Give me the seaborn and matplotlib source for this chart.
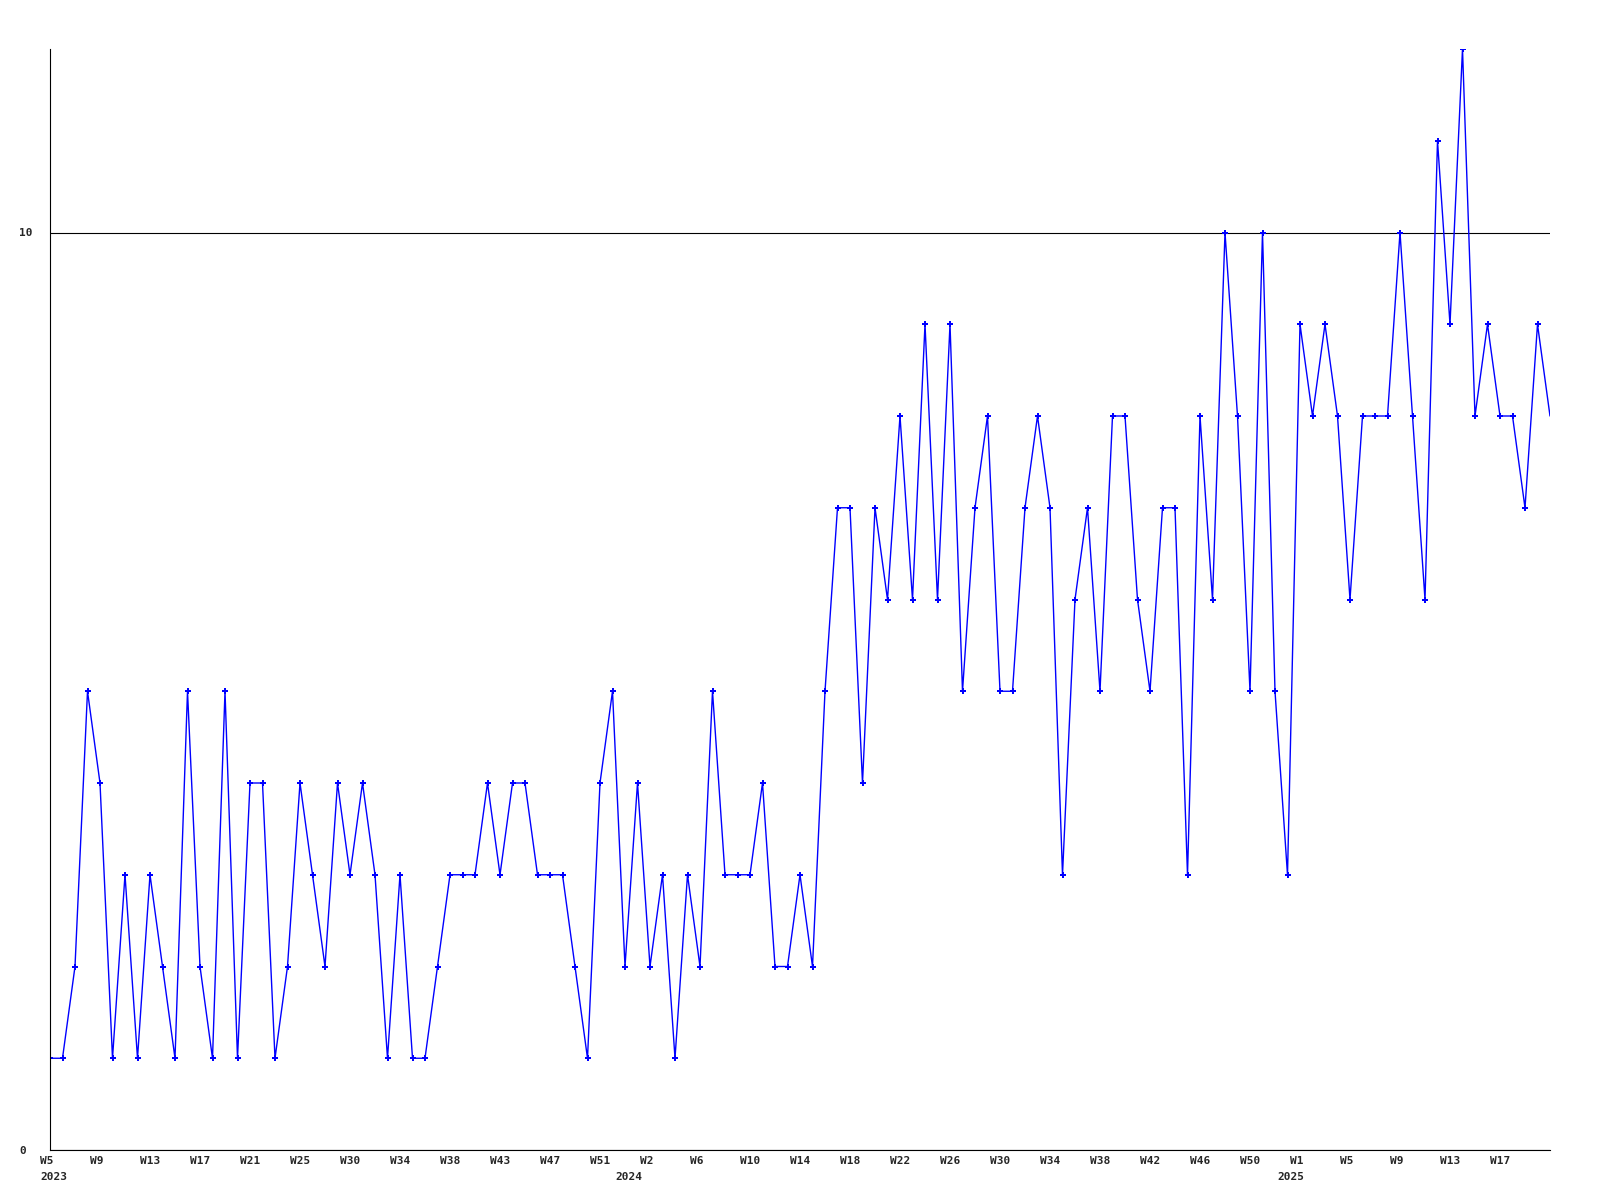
import matplotlib
matplotlib.use("Agg")
import matplotlib.pyplot as plt
import matplotlib.transforms as mtransforms
import seaborn as sns
import pandas as pd

# weekly counts, starting 2023 W5
counts = [1, 1, 2, 5, 4, 1, 3, 1, 3, 2,
          1, 5, 2, 1, 5, 1, 4, 4, 1, 2,
          4, 3, 2, 4, 3, 4, 3, 1, 3, 1,
          1, 2, 3, 3, 3, 4, 3, 4, 4, 3,
          3, 3, 2, 1, 4, 5, 2, 4, 2, 3,
          1, 3, 2, 5, 3, 3, 3, 4, 2, 2,
          3, 2, 5, 7, 7, 4, 7, 6, 8, 6,
          9, 6, 9, 5, 7, 8, 5, 5, 7, 8,
          7, 3, 6, 7, 5, 8, 8, 6, 5, 7,
          7, 3, 8, 6, 10, 8, 5, 10, 5, 3,
          9, 8, 9, 8, 6, 8, 8, 8, 10, 8,
          6, 11, 9, 12, 8, 9, 8, 8, 7, 9,
          8]

# every 4th point gets a week label
week_labels = ["W5", "W9", "W13", "W17", "W21", "W25", "W30", "W34", "W38", "W43",
               "W47", "W51", "W2", "W6", "W10", "W14", "W18", "W22", "W26", "W30",
               "W34", "W38", "W42", "W46", "W50", "W1", "W5", "W9", "W13", "W17"]
year_labels = ["2023", "2024", "2025"]
year_pos = [0, 46, 99]

y_ticks = [0, 10]

df = pd.DataFrame({"pos": range(len(counts)), "count": counts})

sns.set_style("white")
plt.rcParams["font.family"] = ["DejaVu Sans Mono", "DejaVu Sans"]

fig = plt.figure(figsize=(16, 12), dpi=100)
ax = fig.add_axes([50 / 1600, 50 / 1200, 1500 / 1600, 1101 / 1200])

sns.lineplot(data=df, x="pos", y="count", color="#0000ff", linewidth=1.0, ax=ax)
sns.scatterplot(data=df.iloc[:-1], x="pos", y="count", color="#0000ff",
                marker="P", s=20, linewidth=0, ax=ax)

ax.set_xlim(0, 120)
ax.set_ylim(0, 12)
ax.set_xlabel("")
ax.set_ylabel("")

for s in ["top", "right"]:
    ax.spines[s].set_visible(False)
for s in ["left", "bottom"]:
    ax.spines[s].set_color("black")
    ax.spines[s].set_linewidth(0.8)

ax.set_yticks(y_ticks)
ax.set_yticklabels([str(v) for v in y_ticks], fontsize=8, fontweight="bold")
ax.grid(axis="y", color="black", linewidth=0.8)
ax.grid(axis="x", visible=False)
ax.tick_params(axis="y", length=0, pad=22)
for lab in ax.get_yticklabels():
    lab.set_ha("left")

ax.set_xticks(list(range(0, 4 * len(week_labels), 4)))
ax.set_xticklabels(week_labels, fontsize=8, fontweight="bold")
ax.tick_params(axis="x", length=0, pad=4)
shift = mtransforms.ScaledTranslation(-0.1, 0, fig.dpi_scale_trans)
for lab in ax.get_xticklabels():
    lab.set_ha("left")
    lab.set_transform(lab.get_transform() + shift)

year_tr = mtransforms.offset_copy(ax.get_xaxis_transform(), fig=fig, x=-10, y=-27, units="dots")
for p, t in zip(year_pos, year_labels):
    ax.text(p, 0, t, transform=year_tr, ha="left", va="center",
            fontsize=8, fontweight="bold", clip_on=False)

fig.savefig("out.png", dpi=100)
